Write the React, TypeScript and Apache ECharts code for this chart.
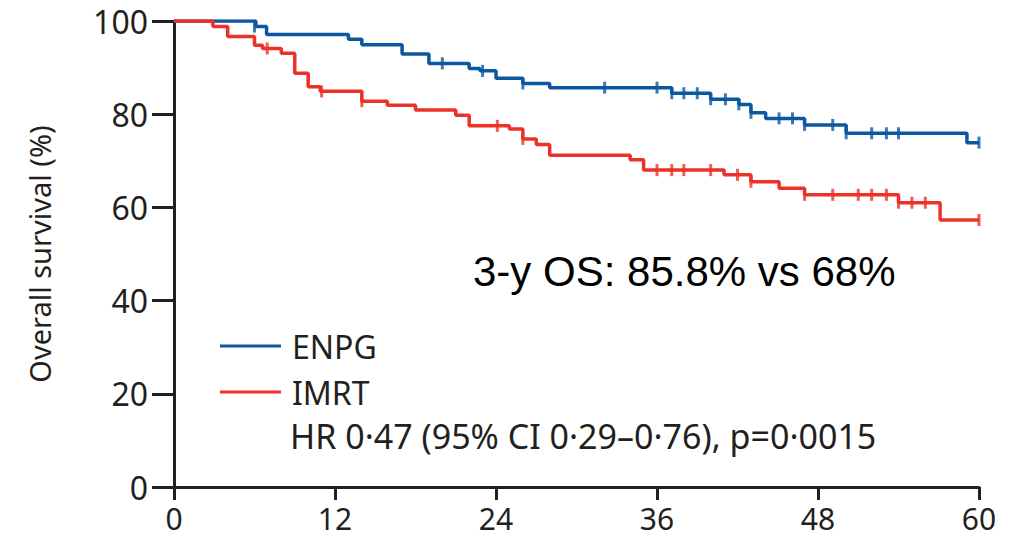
import React, { useEffect, useRef } from "react";
import * as echarts from "echarts";

const xTicks = [0, 12, 24, 36, 48, 60];
const yTicks = [0, 20, 40, 60, 80, 100];

// Kaplan–Meier steps: [month, survival %] (value after the drop)
const enpgSteps: [number, number][] = [
  [0, 100], [6.1, 98.8], [6.9, 97.1], [13.0, 96.1], [14.0, 94.9], [17.0, 92.9],
  [19.0, 90.9], [22.0, 89.8], [22.8, 89.3], [24.0, 87.7], [26.0, 86.6], [28.0, 85.7],
  [37.1, 84.5], [40.0, 83.2], [42.1, 82.1], [43.0, 80.3], [44.1, 79.1], [47.0, 77.7],
  [50.1, 75.9], [59.1, 73.9], [60, 73.9],
];
const imrtSteps: [number, number][] = [
  [0, 100], [2.9, 98.8], [4.0, 96.7], [6.0, 94.8], [6.6, 94.1], [8.0, 93.1],
  [9.0, 88.8], [10.0, 85.9], [10.9, 84.9], [14.0, 82.8], [15.9, 81.9], [18.0, 80.9],
  [21.0, 79.8], [22.0, 77.5], [25.0, 76.8], [26.0, 74.7], [27.0, 73.5], [28.0, 71.2],
  [34.0, 70.2], [35.0, 68.0], [41.0, 67.0], [43.0, 65.5], [45.1, 64.1], [47.0, 62.7],
  [54.0, 61.0], [57.1, 57.3], [60, 57.3],
];
// censored observations: [month, survival %]
const enpgCensored: [number, number][] = [
  [6.0, 98.8], [20.0, 90.9], [23.0, 89.3], [26.0, 86.6], [32.1, 85.7], [36.0, 85.7],
  [37.1, 84.5], [38.0, 84.5], [39.0, 84.5], [40.0, 83.2], [41.1, 83.2], [42.1, 82.1],
  [43.0, 80.3], [45.1, 79.1], [46.1, 79.1], [47.0, 77.7], [49.1, 77.7], [50.1, 75.9],
  [52.0, 75.9], [53.1, 75.9], [54.0, 75.9], [60.0, 73.9],
];
const imrtCensored: [number, number][] = [
  [6.95, 94.1], [11.0, 84.9], [14.0, 82.8], [24.1, 77.5], [26.0, 74.7], [36.0, 68.0],
  [37.1, 68.0], [38.0, 68.0], [40.0, 68.0], [42.0, 67.0], [43.0, 65.5], [47.0, 62.7],
  [49.1, 62.7], [51.0, 62.7], [52.0, 62.7], [53.1, 62.7], [54.0, 61.0], [55.0, 61.0],
  [56.0, 61.0], [60.0, 57.3],
];

const seriesNames = ["ENPG", "IMRT"];
const annotation = "3-y OS: 85.8% vs 68%";
const hrText = "HR 0·47 (95% CI 0·29–0·76), p=0·0015";
const yAxisTitle = "Overall survival (%)";

const BLUE = "#0b57a2";
const RED = "#ec3228";
const INK = "#231f20";
const FONT = "'Noto Sans', 'Open Sans', sans-serif";

export default function App() {
  const ref = useRef<HTMLDivElement>(null);
  useEffect(() => {
    if (!ref.current) return;
    const chart = echarts.init(ref.current, undefined, { renderer: "svg" });
    const censorSymbol = {
      type: "scatter",
      symbol: "rect",
      symbolSize: [3, 12],
      silent: true,
      z: 3,
    };
    chart.setOption({
      animation: false,
      backgroundColor: "#ffffff",
      grid: { left: 174, right: 44, top: 21, bottom: 51 },
      xAxis: {
        type: "value",
        min: xTicks[0],
        max: xTicks[xTicks.length - 1],
        interval: 12,
        axisLine: { lineStyle: { color: INK, width: 3 } },
        axisTick: { show: true, length: 13, lineStyle: { color: INK, width: 3 } },
        axisLabel: { color: INK, fontSize: 30, lineHeight: 26, fontFamily: FONT, margin: 18 },
        splitLine: { show: false },
      },
      yAxis: {
        type: "value",
        min: yTicks[0],
        max: yTicks[yTicks.length - 1],
        interval: 20,
        name: yAxisTitle,
        nameLocation: "middle",
        nameGap: 120,
        nameTextStyle: { color: INK, fontSize: 29, fontFamily: FONT },
        axisLine: { show: true, lineStyle: { color: INK, width: 3 } },
        axisTick: { show: true, length: 22, lineStyle: { color: INK, width: 3 } },
        axisLabel: { color: INK, fontSize: 32, fontFamily: FONT, margin: 26 },
        splitLine: { show: false },
      },
      legend: {
        data: seriesNames,
        orient: "vertical",
        left: 215,
        top: 325,
        padding: 5,
        itemWidth: 61,
        itemHeight: 3,
        itemGap: 14,
        icon: "rect",
        textStyle: { color: INK, fontSize: 32, fontFamily: FONT, lineHeight: 32, padding: [0, 0, 0, 6] },
      },
      series: [
        {
          name: seriesNames[0],
          type: "line",
          step: "end",
          data: enpgSteps,
          showSymbol: false,
          lineStyle: { color: BLUE, width: 3.5 },
          itemStyle: { color: BLUE },
          z: 2,
        },
        {
          name: seriesNames[1],
          type: "line",
          step: "end",
          data: imrtSteps,
          showSymbol: false,
          lineStyle: { color: RED, width: 3.5 },
          itemStyle: { color: RED },
          z: 2,
        },
        { ...censorSymbol, name: "ENPG censored", data: enpgCensored, itemStyle: { color: BLUE } },
        { ...censorSymbol, name: "IMRT censored", data: imrtCensored, itemStyle: { color: RED } },
      ],
      graphic: [
        {
          type: "text",
          left: 473,
          top: 250,
          style: { text: annotation, fill: "#000000", fontSize: 42, fontFamily: "'Liberation Sans', Arial, sans-serif" },
        },
        {
          type: "text",
          left: 290,
          top: 418,
          style: { text: hrText, fill: INK, fontSize: 34, lineHeight: 36, fontFamily: FONT },
        },
      ],
    });
    return () => chart.dispose();
  }, []);
  return <div ref={ref} style={{ width: 1023, height: 538, position: "absolute", left: 0, top: 0 }} />;
}
